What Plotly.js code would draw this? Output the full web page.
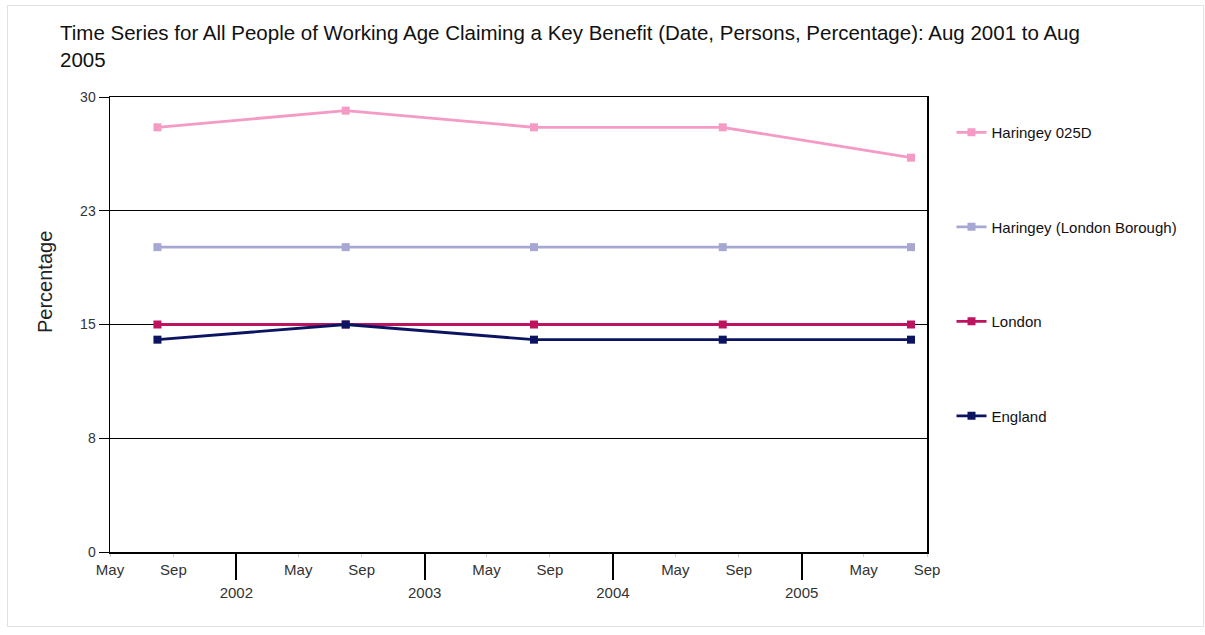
<!DOCTYPE html>
<html>
<head>
<meta charset="utf-8">
<script src="https://cdn.plot.ly/plotly-3.0.1.min.js"></script>
<style>
html,body{margin:0;padding:0;background:#fff;}
#frame{position:absolute;left:7px;top:5px;width:1195px;height:620px;border:1px solid #e2e2e2;}
#chart{position:absolute;left:0;top:0;width:1205px;height:635px;}
</style>
</head>
<body>
<div id="frame"></div>
<div id="chart"></div>
<script>
// Data
const dates = ['2001-08-01','2002-08-01','2003-08-01','2004-08-01','2005-08-01'];
const seriesNames = ['Haringey 025D','Haringey (London Borough)','London','England'];
const haringey025D = [28, 29.1, 28, 28, 26];
const haringeyLB = [20.1, 20.1, 20.1, 20.1, 20.1];
const london = [15, 15, 15, 15, 15];
const england = [14, 15, 14, 14, 14];
const seriesColors = ['#F49AC4','#A7A7D3','#BE1460','#0C1462'];

const monthTickVals = ['2001-05-01','2001-09-01','2002-05-01','2002-09-01','2003-05-01','2003-09-01','2004-05-01','2004-09-01','2005-05-01','2005-09-01'];
const monthTickText = ['May','Sep','May','Sep','May','Sep','May','Sep','May','Sep'];
const yearTickVals = ['2002-01-01','2003-01-01','2004-01-01','2005-01-01'];
const yearTickText = ['2002','2003','2004','2005'];
const yTickVals = [0, 7.5, 15, 22.5, 30];
const yTickText = ['0','8','15','23','30'];

const allValues = [haringey025D, haringeyLB, london, england];
const traces = allValues.map((vals, i) => ({
  x: dates, y: vals, name: seriesNames[i], type: 'scatter', mode: 'lines+markers',
  line: {color: seriesColors[i], width: 2.8},
  marker: {symbol: 'square', size: 8, color: seriesColors[i]},
  legendgroup: 'g' + i, hoverinfo: 'skip'
}));
// dummy trace for year axis
traces.push({x: [yearTickVals[0]], y: [null], xaxis: 'x2', showlegend: false, hoverinfo: 'skip', mode: 'markers'});

const font = {family: 'Liberation Sans, Arial, sans-serif', color: '#222'};
const layout = {
  width: 1205, height: 635,
  margin: {l: 110, r: 278, t: 97, b: 83},
  paper_bgcolor: 'rgba(0,0,0,0)', plot_bgcolor: '#fff',
  font: font,
  title: {text: 'Time Series for All People of Working Age Claiming a Key Benefit (Date, Persons, Percentage): Aug 2001 to Aug<br>2005',
    x: 60/1205, xref: 'container', xanchor: 'left', y: 0.937, yref: 'container', yanchor: 'top',
    font: {family: font.family, size: 20.5, color: '#111'}},
  xaxis: {type: 'date', range: ['2001-05-01','2005-09-01'], tickvals: monthTickVals, ticktext: monthTickText,
    ticks: 'outside', ticklen: 3, tickcolor: '#ccc', showgrid: false, zeroline: false,
    showline: true, linecolor: '#000', linewidth: 1.5, mirror: true,
    tickfont: {size: 15, color: '#333'}, fixedrange: true},
  xaxis2: {type: 'date', overlaying: 'x', anchor: 'y', side: 'bottom', range: ['2001-05-01','2005-09-01'],
    tickvals: yearTickVals, ticktext: yearTickText, ticks: 'outside', ticklen: 27, tickwidth: 2, tickcolor: '#000',
    showgrid: false, zeroline: false, showline: false, tickfont: {size: 15, color: '#333'}},
  yaxis: {range: [0, 30], tickvals: yTickVals, ticktext: yTickText, ticks: 'outside', ticklen: 10, tickcolor: '#000',
    showgrid: true, gridcolor: '#000', gridwidth: 1.2, zeroline: false, showline: true, linecolor: '#000', linewidth: 1.5,
    mirror: true, tickfont: {size: 14, color: '#333'}, fixedrange: true},
  annotations: [{text: 'Percentage', textangle: -90, xref: 'paper', yref: 'paper',
    x: (45 - 110) / 817, y: (552 - 282) / 455, xanchor: 'center', yanchor: 'middle', showarrow: false,
    font: {size: 20, color: '#222'}}],
  legend: {x: 1.03, y: 0.958, xanchor: 'left', yanchor: 'top', tracegroupgap: 72,
    font: {size: 15, color: '#111'}, itemwidth: 30, bgcolor: 'rgba(0,0,0,0)'},
  showlegend: true
};
Plotly.newPlot('chart', traces, layout, {displayModeBar: false, staticPlot: true});
</script>
</body>
</html>
